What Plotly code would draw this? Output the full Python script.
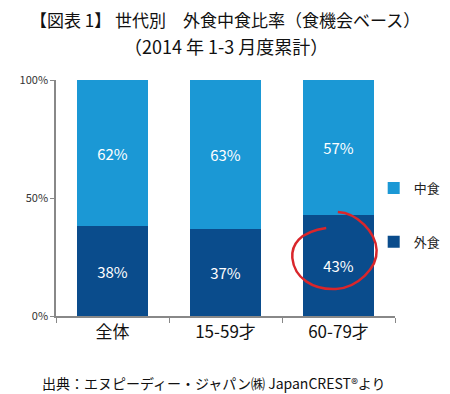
import plotly.graph_objects as go

categories = ["全体", "15-59才", "60-79才"]
gaishoku = [38, 37, 43]   # 外食
nakashoku = [62, 63, 57]  # 中食
y_ticks = [0, 50, 100]
y_tick_labels = ["0%", "50%", "100%"]

W, H = 450, 394
OFF = 8  # page body margin offset
X0, X1, Y0, Y1 = 51, 401, 80, 316  # target plot area in screenshot pixels
L, T = X0 - OFF, Y0 - OFF
pw, ph = X1 - X0, Y1 - Y0
R, B = W - L - pw, H - T - ph

def px(x):
    return (x - X0) / pw

def py(y):
    return (Y1 - y) / ph

fig = go.Figure()
fig.add_trace(go.Bar(
    x=categories, y=gaishoku, name="外食", legendgroup="b", legendrank=2,
    marker=dict(color="#0A4C8C", line=dict(width=0)),
    text=[f"{v}%" for v in gaishoku], textposition="inside", insidetextanchor="middle",
    textfont=dict(color="white", size=15, family="Noto Sans CJK JP"),
))
fig.add_trace(go.Bar(
    x=categories, y=nakashoku, name="中食", legendgroup="a", legendrank=1,
    marker=dict(color="#1B98D5", line=dict(width=0)),
    text=[f"{v}%" for v in nakashoku], textposition="inside", insidetextanchor="middle",
    textfont=dict(color="white", size=15, family="Noto Sans CJK JP"),
))

# hand-drawn red circle around 43%
start = (342, 212)
segs = [((362, 213), (381, 232), (382, 250)),
        ((383, 268), (362, 288), (340, 289)),
        ((316, 290), (297, 278), (295, 258)),
        ((294, 245), (302, 232), (330, 228))]
path = f"M {px(start[0])},{py(start[1])}"
for c1, c2, e in segs:
    path += f" C {px(c1[0])},{py(c1[1])} {px(c2[0])},{py(c2[1])} {px(e[0])},{py(e[1])}"
fig.add_shape(type="path", xref="paper", yref="paper", path=path,
              line=dict(color="#D9262B", width=2.5))

fig.update_layout(
    width=W, height=H,
    margin=dict(l=L, r=R, t=T, b=B),
    barmode="stack", bargap=0.37,
    plot_bgcolor="white", paper_bgcolor="white",
    font=dict(family="Noto Sans CJK JP", color="#222"),
    showlegend=True,
    legend=dict(x=px(379), y=py(173), xanchor="left", yanchor="top",
                traceorder="grouped", tracegroupgap=34,
                font=dict(size=13, color="#222"), itemwidth=30,
                bgcolor="rgba(0,0,0,0)"),
    xaxis=dict(showline=True, linecolor="#888", linewidth=1.5,
               ticks="outside", tickcolor="#888", ticklen=5, tickson="boundaries",
               tickfont=dict(size=17, color="#111"), showgrid=False),
    yaxis=dict(range=[0, 100], tickvals=y_ticks, ticktext=y_tick_labels,
               showline=True, linecolor="#888", linewidth=1.5,
               ticks="outside", tickcolor="#888", ticklen=4,
               tickfont=dict(size=11, color="#333"), showgrid=False, zeroline=False),
    annotations=[
        dict(text="【図表 1】 世代別　外食中食比率（食機会ベース）", xref="paper", yref="paper",
             x=px(225), y=py(19), xanchor="center", yanchor="middle",
             showarrow=False, font=dict(size=17, color="#111")),
        dict(text="（2014 年 1-3 月度累計）", xref="paper", yref="paper",
             x=px(226), y=py(46), xanchor="center", yanchor="middle",
             showarrow=False, font=dict(size=18, color="#111")),
        dict(text="出典：エヌピーディー・ジャパン㈱ JapanCREST®より", xref="paper", yref="paper",
             x=px(214), y=py(383), xanchor="center", yanchor="middle",
             showarrow=False, font=dict(size=14, color="#111")),
    ],
)

fig.write_html("out.html")
